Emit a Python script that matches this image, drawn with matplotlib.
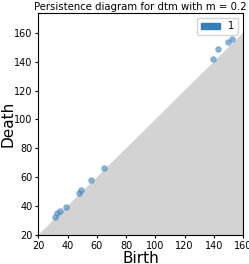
import matplotlib
matplotlib.use("Agg")
import matplotlib.pyplot as plt
import matplotlib.patches as mpatches
import numpy as np

# persistence pairs (dimension 1)
birth = [31.4, 33.0, 34.8, 38.9, 47.7, 49.3, 55.7, 64.8, 139.3, 143.2, 149.5, 152.2]
death = [32.3, 35.5, 36.8, 39.2, 48.9, 51.2, 58.1, 66.6, 142.0, 148.9, 153.5, 155.6]
dim_label = "1"
axis_start, axis_end, y_top = 20, 160, 174

color = plt.cm.Set1.colors[1]

fig = plt.figure(figsize=(2.49, 2.64), dpi=100)
ax = fig.add_axes([0.154, 0.110, 0.822, 0.842])

x = np.linspace(axis_start, axis_end, 100)
ax.fill_between(x, axis_start, x, color="lightgrey", zorder=1)
ax.scatter(birth, death, s=22, color=color, alpha=0.6, zorder=2, linewidths=0)

ax.set_xlim(axis_start, axis_end)
ax.set_ylim(axis_start, y_top)
ax.set_xticks(range(20, 161, 20))
ax.set_yticks(range(20, 161, 20))
ax.tick_params(labelsize=7, length=2.5, pad=1.5)

ax.set_xlabel("Birth", fontsize=11)
ax.set_ylabel("Death", fontsize=11)
ax.xaxis.set_label_coords(0.5, -0.07)
ax.yaxis.set_label_coords(-0.112, 0.5)
ax.set_title("Persistence diagram for dtm with m = 0.2", fontsize=7.3, pad=2)
ax.legend(handles=[mpatches.Patch(color=color, label=dim_label)], loc="upper right", fontsize=7)

fig.savefig("out.png", dpi=100)
